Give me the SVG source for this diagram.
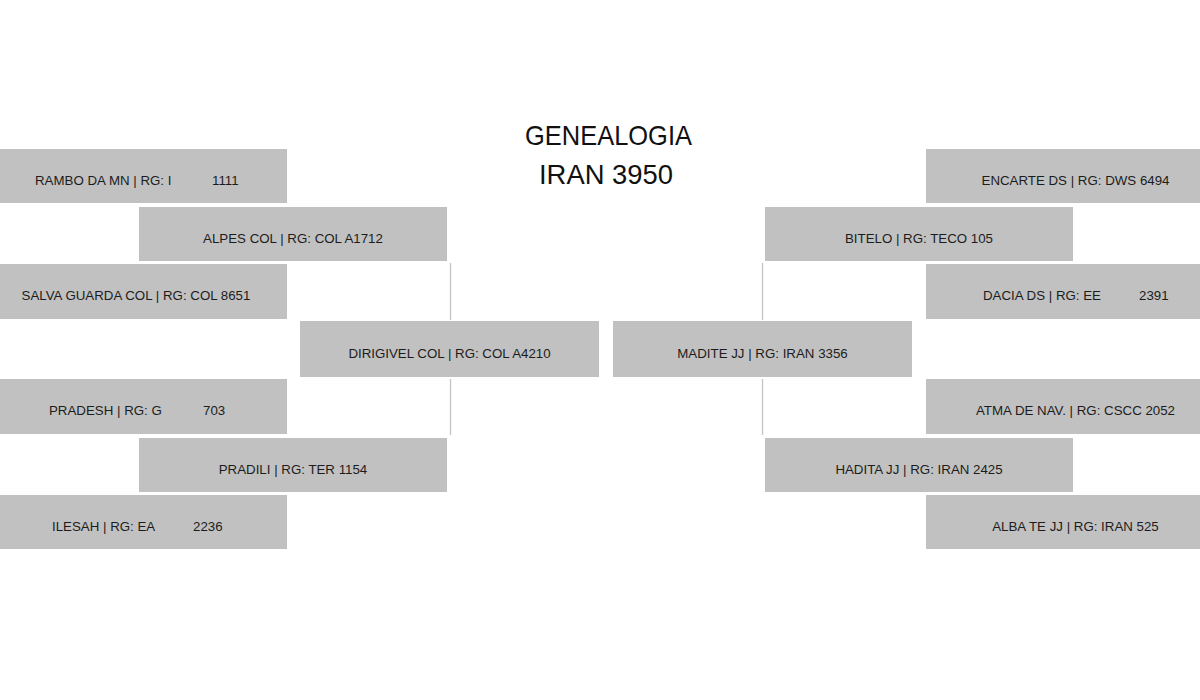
<svg xmlns="http://www.w3.org/2000/svg" width="1200" height="700" viewBox="0 0 1200 700">
<style>
.box{fill:#c1c1c1}
.t{font-family:"Liberation Sans",Arial,sans-serif;font-size:13.3px;fill:#1c1c1c}
.c{text-anchor:middle}
.title{font-family:"Liberation Sans",Arial,sans-serif;font-size:28px;fill:#111111;text-anchor:middle}
.ln{stroke:#c4c4c4;stroke-width:1.3;fill:none}
</style>
<rect width="1200" height="700" fill="#ffffff"/>
<g id="title">
<text class="title" x="608.5" y="144.5" textLength="167" lengthAdjust="spacingAndGlyphs">GENEALOGIA</text>
<text class="title" x="606" y="184" textLength="134" lengthAdjust="spacingAndGlyphs">IRAN 3950</text>
</g>
<g id="connectors">
<line class="ln" x1="450.5" y1="263" x2="450.5" y2="320"/>
<line class="ln" x1="450.5" y1="379" x2="450.5" y2="435"/>
<line class="ln" x1="762.5" y1="263" x2="762.5" y2="320"/>
<line class="ln" x1="762.5" y1="379" x2="762.5" y2="435"/>
</g>
<g id="rambo"><rect class="box" x="-15" y="149" width="302" height="54"/><text class="t" x="35" y="184.5">RAMBO DA MN | RG: I<tspan x="212">1111</tspan></text></g>
<g id="alpes"><rect class="box" x="139" y="207" width="308" height="54"/><text class="t c" x="293" y="242.5">ALPES COL | RG: COL A1712</text></g>
<g id="salva"><rect class="box" x="-15" y="264" width="302" height="55"/><text class="t c" x="136" y="300">SALVA GUARDA COL | RG: COL 8651</text></g>
<g id="dirigivel"><rect class="box" x="300" y="321" width="299" height="56"/><text class="t c" x="449.5" y="357.5">DIRIGIVEL COL | RG: COL A4210</text></g>
<g id="pradesh"><rect class="box" x="-15" y="379" width="302" height="55"/><text class="t" x="49" y="415">PRADESH | RG: G<tspan x="203">703</tspan></text></g>
<g id="pradili"><rect class="box" x="139" y="438" width="308" height="54"/><text class="t c" x="293" y="473.5">PRADILI | RG: TER 1154</text></g>
<g id="ilesah"><rect class="box" x="-15" y="495" width="302" height="54"/><text class="t" x="52" y="530.5">ILESAH | RG: EA<tspan x="193">2236</tspan></text></g>
<g id="madite"><rect class="box" x="613" y="321" width="299" height="56"/><text class="t c" x="762.5" y="357.5">MADITE JJ | RG: IRAN 3356</text></g>
<g id="encarte"><rect class="box" x="926" y="149" width="300" height="54"/><text class="t c" x="1075.5" y="184.5">ENCARTE DS | RG: DWS 6494</text></g>
<g id="bitelo"><rect class="box" x="765" y="207" width="308" height="54"/><text class="t c" x="919" y="242.5">BITELO | RG: TECO 105</text></g>
<g id="dacia"><rect class="box" x="926" y="264" width="300" height="55"/><text class="t" x="983" y="300">DACIA DS | RG: EE<tspan x="1139">2391</tspan></text></g>
<g id="atma"><rect class="box" x="926" y="379" width="300" height="55"/><text class="t c" x="1075.5" y="415">ATMA DE NAV. | RG: CSCC 2052</text></g>
<g id="hadita"><rect class="box" x="765" y="438" width="308" height="54"/><text class="t c" x="919" y="473.5">HADITA JJ | RG: IRAN 2425</text></g>
<g id="alba"><rect class="box" x="926" y="495" width="300" height="54"/><text class="t c" x="1075.5" y="530.5">ALBA TE JJ | RG: IRAN 525</text></g>
</svg>
